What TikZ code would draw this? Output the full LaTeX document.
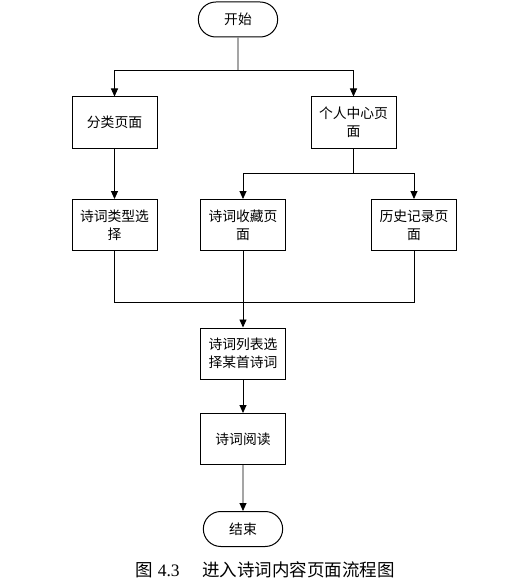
\documentclass[tikz,border=0pt]{standalone}
\usepackage{fontspec}
\setmainfont{Liberation Serif}
\newfontfamily\cjk{Noto Sans CJK SC}
\usetikzlibrary{positioning}
\usetikzlibrary{shapes}
\usetikzlibrary{arrows.meta}

\begin{document}
\begin{tikzpicture}[x=1pt, y=-1pt, line width=0.9pt,
        every node/.style={font=\cjk\fontsize{13.8}{18}\selectfont},
        b/.style={draw, line width=1pt, minimum width=85pt, minimum height=51pt, align=center, inner sep=1pt},
        t/.style={draw, line width=1pt, rounded rectangle, minimum width=86pt, minimum height=35pt},
        arr/.style={-{Triangle[length=8pt, width=7pt]}}]
        \useasboundingbox (0,0) rectangle (518,583);

        \node[t] (start) at (238, 19.5) {开始};
        \node[b] (cat) at (114.5, 122.5) {分类页面};
        \node[b] (me) at (353.5, 122.5) {个人中心页\\面};
        \node[b] (type) at (114.5, 225) {诗词类型选\\择};
        \node[b] (fav) at (243, 225) {诗词收藏页\\面};
        \node[b] (hist) at (414, 225) {历史记录页\\面};
        \node[b] (list) at (243, 353.5) {诗词列表选\\择某首诗词};
        \node[b] (read) at (243, 439) {诗词阅读};
        \node[t] (stop) at (243, 529) {结束};

        \coordinate (f1) at (238, 70.5);
        \coordinate (f2) at (353.5, 173);
        \coordinate (m1) at (243, 302);

        \draw (start) -- (f1);
        \draw[arr] (f1) -| (cat);
        \draw[arr] (f1) -| (me);
        \draw[arr] (cat) -- (type);
        \draw (me) -- (f2);
        \draw[arr] (f2) -| (fav);
        \draw[arr] (f2) -| (hist);
        \draw (type) |- (m1);
        \draw (hist) |- (m1);
        \draw[arr] (fav) -- (list);
        \draw[arr] (list) -- (read);
        \draw[arr] (read) -- (stop);

        \node (cap) at (265, 570) {\fontsize{17.5}{20}\selectfont 图\hspace{0.3em}{\rmfamily 4.3}\hspace{1.3em}进入诗词内容页面流程图};
    \end{tikzpicture}
\end{document}
